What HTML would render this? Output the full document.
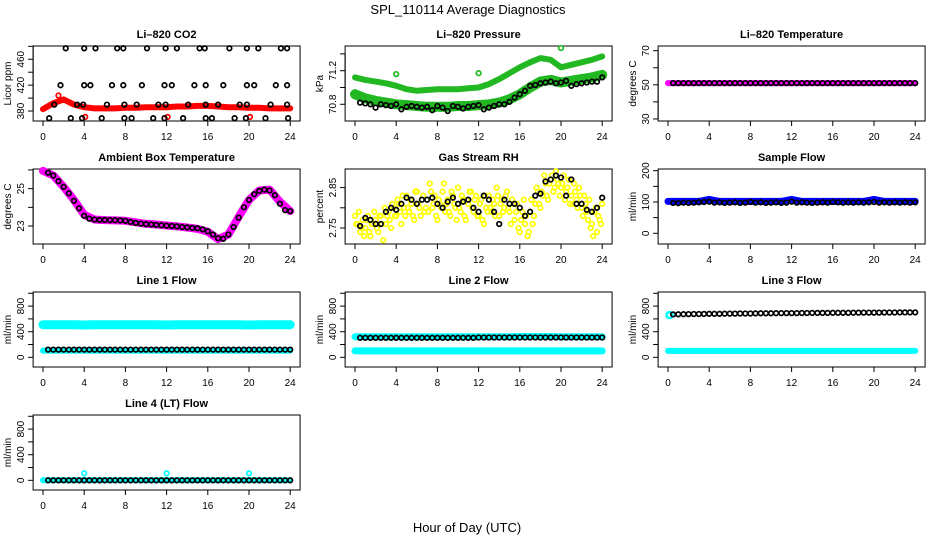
<!DOCTYPE html>
<html><head><meta charset="utf-8"><title>SPL_110114 Average Diagnostics</title>
<style>
body{margin:0;background:#fff;}
svg{display:block;font-family:"Liberation Sans",sans-serif;}
</style></head>
<body>
<svg id="fig" width="936" height="540" viewBox="0 0 936 540" xmlns="http://www.w3.org/2000/svg">
<text x="468" y="14" text-anchor="middle" font-size="13">SPL_110114  Average Diagnostics</text>
<text x="467" y="532" text-anchor="middle" font-size="13">Hour of Day (UTC)</text>
</svg>
<script>
// ---- shared categories ----
const hours25 = [0,1,2,3,4,5,6,7,8,9,10,11,12,13,14,15,16,17,18,19,20,21,22,23,24];
const hours48 = [0.5,1,1.5,2,2.5,3,3.5,4,4.5,5,5.5,6,6.5,7,7.5,8,8.5,9,9.5,10,10.5,11,11.5,12,12.5,13,13.5,14,14.5,15,15.5,16,16.5,17,17.5,18,18.5,19,19.5,20,20.5,21,21.5,22,22.5,23,23.5,24];
const xTicks = [0,4,8,12,16,20,24];

// ---- CO2 ----
const co2Red = [383,392,398,390,386,384,384,384,385,385,386,386,386,387,387,388,388,387,386,386,385,385,384,384,384];
const co2TopHours = [2.2,4.0,5.1,7.2,7.8,10.1,11.9,13.0,15.2,15.7,18.1,19.8,20.9,23.1,23.7];
const co2TopVals = [477,477,477,477,477,477,477,477,477,477,477,477,477,477,477];
const co2MidHours = [1.7,4.0,4.6,6.7,7.8,9.6,11.8,12.5,14.7,15.8,17.5,19.8,20.5,22.6,23.7];
const co2MidVals = [420,420,420,420,420,420,420,420,420,420,420,420,420,420,420];
const co2LowHours = [1.1,3.3,3.9,6.2,7.9,9.1,11.2,11.9,14.1,15.8,17.0,19.1,19.8,22.1,23.7];
const co2LowVals = [390,390,390,390,390,390,390,390,390,390,390,390,390,390,390];
const co2BotHours = [0.6,2.7,3.8,5.7,7.9,8.6,10.7,11.8,13.6,15.8,16.4,18.6,19.7,21.6,23.8];
const co2BotVals = [369,369,369,369,369,369,369,369,369,369,369,369,369,369,369];
const co2RedOutHours = [4.1,12.1,20.1,1.5];
const co2RedOutVals = [371,371,371,404];

// ---- Pressure ----
const presUpper = [71.12,71.09,71.07,71.05,71.02,70.98,70.96,70.97,70.98,70.98,70.98,70.99,71.0,71.04,71.10,71.17,71.24,71.30,71.35,71.33,71.24,71.27,71.30,71.33,71.37];
const presLower = [70.92,70.87,70.84,70.82,70.80,70.79,70.78,70.77,70.77,70.77,70.78,70.78,70.79,70.80,70.82,70.86,70.92,71.00,71.07,71.09,71.06,71.08,71.10,71.12,71.15];
const presBlack = [70.82,70.81,70.80,70.76,70.80,70.79,70.78,70.80,70.74,70.77,70.78,70.77,70.76,70.77,70.73,70.78,70.76,70.72,70.78,70.77,70.75,70.77,70.78,70.79,70.74,70.76,70.78,70.80,70.80,70.83,70.88,70.92,70.96,71.02,71.03,71.05,71.06,71.07,71.05,71.06,71.08,71.02,71.04,71.05,71.06,71.07,71.07,71.12];
const presOutHours = [4,12,20];
const presOutVals = [71.16,71.17,71.47];

// ---- Li-820 temperature ----
const liTempMag = [51,51,51,51,51,51,51,51,51,51,51,51,51,51,51,51,51,51,51,51,51,51,51,51,51];
const liTempBlack = [51,51,51,51,51,51,51,51,51,51,51,51,51,51,51,51,51,51,51,51,51,51,51,51,51,51,51,51,51,51,51,51,51,51,51,51,51,51,51,51,51,51,51,51,51,51,51,51];

// ---- Ambient ----
const ambMag = [25.95,25.7,25.1,24.4,23.6,23.35,23.32,23.3,23.28,23.2,23.12,23.08,23.03,22.98,22.92,22.85,22.7,22.3,22.55,23.5,24.4,24.9,24.95,24.3,23.8];
const ambBlack = [25.85,25.7,25.4,25.1,24.75,24.35,23.95,23.55,23.4,23.35,23.33,23.33,23.32,23.31,23.3,23.28,23.22,23.17,23.13,23.1,23.08,23.06,23.04,23.02,23.0,22.98,22.95,22.93,22.9,22.88,22.82,22.72,22.55,22.35,22.32,22.55,22.95,23.45,24.0,24.4,24.7,24.88,24.95,24.9,24.65,24.2,23.85,23.8];

// ---- Gas stream RH ----
const rhHoursA = [0,0.25,0.5,0.75,1,1.25,1.5,1.75,2,2.25,2.5,2.75,3,3.25,3.5,3.75,4,4.25,4.5,4.75,5,5.25,5.5,5.75,6,6.25,6.5,6.75,7,7.25,7.5,7.75,8,8.25,8.5,8.75,9,9.25,9.5,9.75,10,10.25,10.5,10.75,11,11.25,11.5,11.75,12,12.25,12.5,12.75,13,13.25,13.5,13.75,14,14.25,14.5,14.75,15,15.25,15.5,15.75,16,16.25,16.5,16.75,17,17.25,17.5,17.75,18,18.25,18.5,18.75,19,19.25,19.5,19.75,20,20.25,20.5,20.75,21,21.25,21.5,21.75,22,22.25,22.5,22.75,23,23.25,23.5,23.75,24];
const rhYellowA = [2.78,2.76,2.74,2.77,2.75,2.78,2.73,2.76,2.77,2.74,2.78,2.72,2.76,2.79,2.75,2.80,2.78,2.81,2.76,2.80,2.83,2.79,2.81,2.77,2.84,2.80,2.82,2.79,2.82,2.86,2.80,2.83,2.77,2.81,2.84,2.79,2.82,2.78,2.83,2.80,2.85,2.79,2.82,2.77,2.81,2.84,2.79,2.83,2.78,2.82,2.76,2.80,2.83,2.79,2.81,2.85,2.78,2.82,2.80,2.84,2.79,2.82,2.77,2.81,2.74,2.79,2.76,2.73,2.79,2.76,2.81,2.84,2.80,2.83,2.86,2.82,2.87,2.84,2.89,2.86,2.85,2.88,2.84,2.87,2.83,2.86,2.82,2.85,2.80,2.83,2.79,2.82,2.76,2.79,2.74,2.77,2.81];
const rhHoursB = [0.125,0.375,0.625,0.875,1.125,1.375,1.625,1.875,2.125,2.375,2.625,2.875,3.125,3.375,3.625,3.875,4.125,4.375,4.625,4.875,5.125,5.375,5.625,5.875,6.125,6.375,6.625,6.875,7.125,7.375,7.625,7.875,8.125,8.375,8.625,8.875,9.125,9.375,9.625,9.875,10.125,10.375,10.625,10.875,11.125,11.375,11.625,11.875,12.125,12.375,12.625,12.875,13.125,13.375,13.625,13.875,14.125,14.375,14.625,14.875,15.125,15.375,15.625,15.875,16.125,16.375,16.625,16.875,17.125,17.375,17.625,17.875,18.125,18.375,18.625,18.875,19.125,19.375,19.625,19.875,20.125,20.375,20.625,20.875,21.125,21.375,21.625,21.875,22.125,22.375,22.625,22.875,23.125,23.375,23.625,23.875];
const rhYellowB = [2.76,2.79,2.75,2.73,2.77,2.74,2.76,2.79,2.75,2.78,2.76,2.80,2.78,2.77,2.81,2.78,2.82,2.79,2.83,2.78,2.80,2.82,2.78,2.84,2.81,2.78,2.83,2.80,2.79,2.84,2.81,2.78,2.82,2.80,2.86,2.81,2.79,2.84,2.81,2.77,2.80,2.83,2.78,2.82,2.84,2.80,2.82,2.78,2.81,2.77,2.83,2.79,2.80,2.82,2.78,2.83,2.81,2.79,2.83,2.80,2.76,2.81,2.79,2.75,2.77,2.82,2.78,2.74,2.82,2.78,2.85,2.81,2.84,2.88,2.83,2.86,2.88,2.85,2.87,2.83,2.86,2.82,2.85,2.81,2.81,2.84,2.80,2.83,2.78,2.81,2.77,2.75,2.73,2.80,2.78,2.76];
const rhBlack = [2.755,2.775,2.77,2.76,2.76,2.79,2.80,2.795,2.81,2.825,2.82,2.81,2.82,2.82,2.825,2.81,2.80,2.815,2.825,2.81,2.815,2.82,2.80,2.79,2.83,2.82,2.79,2.76,2.82,2.81,2.81,2.80,2.78,2.79,2.83,2.835,2.865,2.87,2.88,2.875,2.83,2.87,2.81,2.81,2.795,2.79,2.80,2.825];

// ---- Sample flow ----
const sampleBlue = [102,102,102,102,108,102,102,102,102,102,102,102,108,102,102,102,102,102,102,102,108,102,102,102,102];
const sampleBlack = [97,96,98,97,98,99,100,101,98,99,97,98,99,97,98,100,98,99,97,98,99,97,98,101,98,99,98,97,98,99,98,100,99,98,99,98,99,98,99,100,98,99,98,99,98,99,98,99];

// ---- Line flows ----
const line1CyanHigh = [510,510,510,510,505,510,510,510,510,510,510,510,505,510,510,510,510,510,510,510,505,510,510,510,510];
const line1CyanLow = [105,105,105,105,105,105,105,105,105,105,105,105,105,105,105,105,105,105,105,105,105,105,105,105,105];
const line1Black = [120,120,120,120,120,120,120,120,120,120,120,120,120,120,120,120,120,120,120,120,120,120,120,120,120,120,120,120,120,120,120,120,120,120,120,120,120,120,120,120,120,120,120,120,120,120,120,120];
const line2CyanHigh = [320,320,320,320,320,320,320,320,320,320,320,320,320,320,320,320,325,325,325,325,320,320,320,320,320];
const line2CyanLow = [100,100,100,100,100,100,100,100,100,100,100,100,100,100,100,100,100,100,100,100,100,100,100,100,100];
const line2Black = [305,305,305,305,305,305,305,305,305,305,305,305,305,305,305,305,305,305,305,305,305,305,305,310,310,310,310,310,310,310,310,310,310,310,310,310,310,310,310,310,310,310,310,310,310,310,310,310];
const line3CyanLow = [100,100,100,100,100,100,100,100,100,100,100,100,100,100,100,100,100,100,100,100,100,100,100,100,100];
const line3CyanFirstHours = [0.15];
const line3CyanFirstVals = [660];
const line3Black = [670,672,674,675,676,677,678,679,680,680,681,682,683,684,684,685,686,687,687,688,689,690,690,691,691,692,692,693,693,694,694,695,695,696,696,697,697,698,698,699,699,700,700,700,701,701,702,702];
const line4Cyan = [0,0,0,0,0,0,0,0,0,0,0,0,0,0,0,0,0,0,0,0,0,0,0,0,0];
const line4Black = [0,0,0,0,0,0,0,0,0,0,0,0,0,0,0,0,0,0,0,0,0,0,0,0,0,0,0,0,0,0,0,0,0,0,0,0,0,0,0,0,0,0,0,0,0,0,0,0];
const line4OutHours = [4,12,20];
const line4OutVals = [110,110,110];
const flowTicks = [0,200,400,600,800,1000];
const flowLabels = [0,400,800];

const NS = "http://www.w3.org/2000/svg";
const svg = document.getElementById('fig');
const COLX0 = [43, 355, 668];
const ROWTOP = [46, 169, 292, 415];
const PH = 75, XS = 10.3;

function mk(tag, attrs, parent) {
  const e = document.createElementNS(NS, tag);
  for (const k in attrs) e.setAttribute(k, attrs[k]);
  (parent || svg).appendChild(e);
  return e;
}

function panel(p) {
  const g = mk('g', {});
  
  
  const x0 = COLX0[p.col], top = ROWTOP[p.row], bot = top + PH;
  const xs = h => x0 + h * XS;
  const ys = v => bot - (v - p.ymin) / (p.ymax - p.ymin) * PH;
  const left = xs(-0.96), right = xs(24.96);
  p.xs = xs; p.ys = ys; p.g = g;
  const box = mk('rect', {x: left, y: top, width: right - left, height: PH, fill: 'none', stroke: '#000', 'stroke-width': 1}, g);
  
  
  const t = mk('text', {x: (left + right) / 2, y: top - 8, 'text-anchor': 'middle', 'font-size': 11, 'font-weight': 'bold'}, g);
  t.textContent = p.title;
  
  
  const xa = mk('g', {}, g);
  
  
  mk('line', {x1: xs(0), x2: xs(24), y1: bot, y2: bot, stroke: '#000'}, xa);
  xTicks.forEach(v => {
    mk('line', {x1: xs(v), x2: xs(v), y1: bot, y2: bot + 5, stroke: '#000'}, xa);
    const l = mk('text', {x: xs(v), y: bot + 19, 'text-anchor': 'middle', 'font-size': 10}, xa);
    l.textContent = v;
    
    
  });
  const ya = mk('g', {}, g);
  
  
  mk('line', {x1: left, x2: left, y1: ys(p.yticks[0]), y2: ys(p.yticks[p.yticks.length - 1]), stroke: '#000'}, ya);
  p.yticks.forEach(v => mk('line', {x1: left, x2: left - 5, y1: ys(v), y2: ys(v), stroke: '#000'}, ya));
  p.ylabels.forEach(v => {
    const l = mk('text', {x: left - 9, y: ys(v), 'text-anchor': 'middle', 'font-size': 10, transform: `rotate(-90 ${left - 9} ${ys(v)})`}, ya);
    l.textContent = v;
    
    
  });
  const yt = mk('text', {x: left - 22, y: (top + bot) / 2, 'text-anchor': 'middle', 'font-size': 10, transform: `rotate(-90 ${left - 22} ${(top + bot) / 2})`}, g);
  yt.textContent = p.ylab;
  
  
  return p;
}

function band(p, hrs, vals, color, w, name) {
  const pts = hrs.map((h, i) => p.xs(h).toFixed(1) + ',' + p.ys(vals[i]).toFixed(1)).join(' ');
  const e = mk('polyline', {points: pts, fill: 'none', stroke: color, 'stroke-width': w, 'stroke-linejoin': 'round', 'stroke-linecap': 'round'}, p.g);
  
  
}
function pts(p, hrs, vals, color, name, r, sw) {
  const g = mk('g', {}, p.g);
  
  
  hrs.forEach((h, i) => {
    const c = mk('circle', {cx: p.xs(h).toFixed(1), cy: p.ys(vals[i]).toFixed(1), r: r || 2.3, fill: 'none', stroke: color, 'stroke-width': sw || 1.7}, g);
    
    
  });
}

const RED = '#ff0000', GREEN = '#22b822', MAG = '#ff00ff', BLUE = '#0000ff', CYAN = '#00ffff', YEL = '#ffff00', BLK = '#000';

let p = panel({name: 'co2-panel', col: 0, row: 0, title: 'Li\u2013820 CO2', ylab: 'Licor ppm', ymin: 364.6, ymax: 480.5, yticks: [380,400,420,440,460,480], ylabels: [380,420,460]});
band(p, hours25, co2Red, RED, 6, 'co2-red-band');
pts(p, co2RedOutHours, co2RedOutVals, RED, 'co2-red-outliers');
pts(p, co2TopHours, co2TopVals, BLK, 'co2-black-477');
pts(p, co2MidHours, co2MidVals, BLK, 'co2-black-420');
pts(p, co2LowHours, co2LowVals, BLK, 'co2-black-390');
pts(p, co2BotHours, co2BotVals, BLK, 'co2-black-369');

p = panel({name: 'pressure-panel', col: 1, row: 0, title: 'Li\u2013820 Pressure', ylab: 'kPa', ymin: 70.601, ymax: 71.494, yticks: [70.8,71.0,71.2,71.4], ylabels: ['70.8','71.2']});
band(p, hours25, presUpper, GREEN, 6, 'pressure-upper-band');
band(p, hours25, presLower, GREEN, 10, 'pressure-lower-band');
pts(p, presOutHours, presOutVals, GREEN, 'pressure-green-outliers');
pts(p, hours48, presBlack, BLK, 'pressure-black-points');

p = panel({name: 'li820-temperature-panel', col: 2, row: 0, title: 'Li\u2013820 Temperature', ylab: 'degrees C', ymin: 28.8, ymax: 72.75, yticks: [30,40,50,60,70], ylabels: [30,50,70]});
band(p, hours25, liTempMag, MAG, 6, 'li-temp-magenta-band');
pts(p, hours48, liTempBlack, BLK, 'li-temp-black-points');

p = panel({name: 'ambient-temperature-panel', col: 0, row: 1, title: 'Ambient Box Temperature', ylab: 'degrees C', ymin: 22.04, ymax: 26.05, yticks: [23,24,25,26], ylabels: [23,25]});
band(p, hours25, ambMag, MAG, 8, 'ambient-magenta-band');
pts(p, hours48, ambBlack, BLK, 'ambient-black-points');

p = panel({name: 'gas-rh-panel', col: 1, row: 1, title: 'Gas Stream RH', ylab: 'percent', ymin: 2.7104, ymax: 2.896, yticks: [2.75,2.80,2.85], ylabels: ['2.75','2.85']});
pts(p, rhHoursA, rhYellowA, YEL, 'rh-yellow-points-a');
pts(p, rhHoursB, rhYellowB, YEL, 'rh-yellow-points-b');
pts(p, hours48, rhBlack, BLK, 'rh-black-points');

p = panel({name: 'sample-flow-panel', col: 2, row: 1, title: 'Sample Flow', ylab: 'ml/min', ymin: -34.2, ymax: 205.4, yticks: [0,50,100,150,200], ylabels: [0,100,200]});
band(p, hours25, sampleBlue, BLUE, 7, 'sample-blue-band');
pts(p, hours48, sampleBlack, BLK, 'sample-black-points');

p = panel({name: 'line1-flow-panel', col: 0, row: 2, title: 'Line 1 Flow', ylab: 'ml/min', ymin: -151, ymax: 1020, yticks: flowTicks, ylabels: flowLabels});
band(p, hours25, line1CyanHigh, CYAN, 9, 'line1-cyan-high-band');
band(p, hours25, line1CyanLow, CYAN, 6, 'line1-cyan-low-band');
pts(p, hours48, line1Black, BLK, 'line1-black-points');

p = panel({name: 'line2-flow-panel', col: 1, row: 2, title: 'Line 2 Flow', ylab: 'ml/min', ymin: -151, ymax: 1020, yticks: flowTicks, ylabels: flowLabels});
band(p, hours25, line2CyanHigh, CYAN, 7, 'line2-cyan-high-band');
band(p, hours25, line2CyanLow, CYAN, 7, 'line2-cyan-low-band');
pts(p, hours48, line2Black, BLK, 'line2-black-points');

p = panel({name: 'line3-flow-panel', col: 2, row: 2, title: 'Line 3 Flow', ylab: 'ml/min', ymin: -151, ymax: 1020, yticks: flowTicks, ylabels: flowLabels});
band(p, hours25, line3CyanLow, CYAN, 6, 'line3-cyan-low-band');
pts(p, line3CyanFirstHours, line3CyanFirstVals, CYAN, 'line3-cyan-first', 3, 2.5);
pts(p, hours48, line3Black, BLK, 'line3-black-points');

p = panel({name: 'line4-flow-panel', col: 0, row: 3, title: 'Line 4 (LT) Flow', ylab: 'ml/min', ymin: -151, ymax: 1020, yticks: flowTicks, ylabels: flowLabels});
band(p, hours25, line4Cyan, CYAN, 6, 'line4-cyan-band');
pts(p, line4OutHours, line4OutVals, CYAN, 'line4-cyan-outliers');
pts(p, hours48, line4Black, BLK, 'line4-black-points');
</script>
</body></html>
